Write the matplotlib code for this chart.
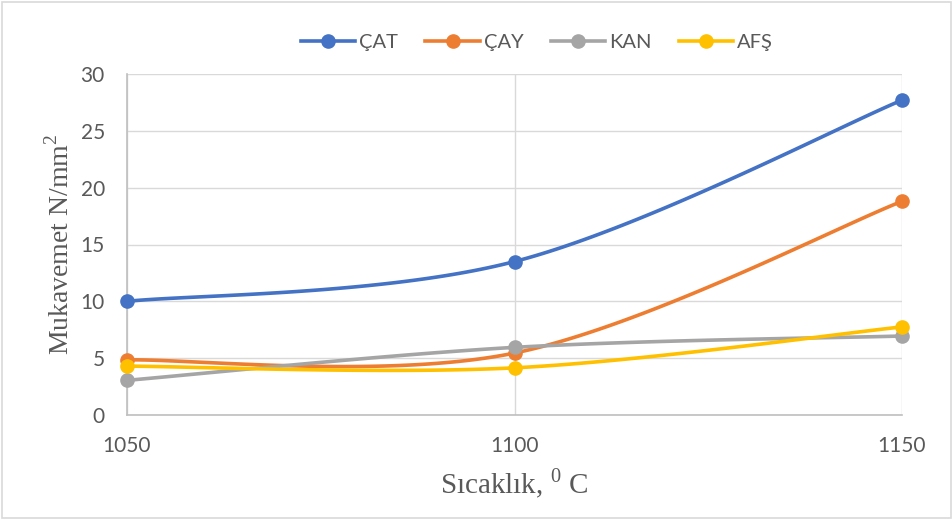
import numpy as np
import matplotlib
matplotlib.use("Agg")
import matplotlib.pyplot as plt
from matplotlib.lines import Line2D

temps = [1050, 1100, 1150]
series_names = ["ÇAT", "ÇAY", "KAN", "AFŞ"]
cat_vals = [10.0, 13.5, 27.7]
cay_vals = [4.85, 5.45, 18.8]
kan_vals = [3.05, 5.95, 6.95]
afs_vals = [4.3, 4.15, 7.75]
colors = ["#4472C4", "#ED7D31", "#A5A5A5", "#FFC000"]
yticks = [0, 5, 10, 15, 20, 25, 30]

plt.rcParams['mathtext.fontset'] = 'custom'
plt.rcParams['mathtext.rm'] = 'Liberation Serif'

W, H = 953, 520
fig = plt.figure(figsize=(W / 100, H / 100), dpi=100)
ax = fig.add_axes([127 / W, 1 - 415 / H, 775 / W, (415 - 74) / H])

xlim = (1050, 1150)
ylim = (0, 30)
sx = 775 / (xlim[1] - xlim[0])
sy = (415 - 74) / (ylim[1] - ylim[0])


def smooth(xs, ys, n=60):
    P = np.column_stack([np.array(xs) * sx, np.array(ys) * sy])
    m = len(P)
    out = []
    for i in range(m - 1):
        p0 = P[i - 1] if i > 0 else P[i]
        p1 = P[i]
        p2 = P[i + 1]
        p3 = P[i + 2] if i + 2 < m else P[i + 1]
        c1 = p1 + (p2 - p0) / 6
        c2 = p2 - (p3 - p1) / 6
        t = np.linspace(0, 1, n)[:, None]
        b = ((1 - t) ** 3) * p1 + 3 * ((1 - t) ** 2) * t * c1 + 3 * (1 - t) * t ** 2 * c2 + t ** 3 * p2
        out.append(b if i == 0 else b[1:])
    B = np.vstack(out)
    return B[:, 0] / sx, B[:, 1] / sy


all_vals = [cat_vals, cay_vals, kan_vals, afs_vals]
for name, vals, col in zip(series_names, all_vals, colors):
    xs, ys = smooth(temps, vals)
    ax.plot(xs, ys, color=col, lw=2.6, solid_capstyle='round', zorder=3)
    ax.plot(temps, vals, 'o', color=col, ms=9.5, zorder=4, clip_on=False)

ax.set_xlim(*xlim)
ax.set_ylim(*ylim)
ax.set_xticks(temps)
ax.set_yticks(yticks)
ax.grid(True, color="#D9D9D9", lw=1.0, zorder=0)
ax.set_axisbelow(True)
for s in ["top", "right"]:
    ax.spines[s].set_visible(False)
for s in ["left", "bottom"]:
    ax.spines[s].set_color("#BFBFBF")
    ax.spines[s].set_linewidth(1.2)
ax.tick_params(length=0, labelsize=15, colors="#595959")
ax.tick_params(axis='x', pad=15)
ax.tick_params(axis='y', pad=16)
for lab in ax.get_xticklabels() + ax.get_yticklabels():
    lab.set_fontfamily("Lato")

ax.set_xlabel(r"Sıcaklık, $^{0}$ C", fontfamily="Liberation Serif", fontsize=21,
              color="#595959", labelpad=8)
ax.set_ylabel(r"Mukavemet N/mm$^{2}$", fontfamily="Liberation Serif", fontsize=20,
              color="#595959", labelpad=4)

handles = [Line2D([0], [0], color=c, lw=2.6, marker='o', ms=9.5) for c in colors]
leg = fig.legend(handles, series_names, loc="center", bbox_to_anchor=(537 / W, 1 - 42 / H),
                 ncol=4, frameon=False, handlelength=2.7, columnspacing=1.35,
                 handletextpad=0.2, prop={"family": "Lato", "size": 14.5})
for t in leg.get_texts():
    t.set_color("#595959")

fig.patches.append(plt.Rectangle((0.002, 0.003), 0.996, 0.994, transform=fig.transFigure,
                                 fill=False, edgecolor="#D9D9D9", lw=1.2))

fig.savefig("out.png", dpi=100, facecolor="white")
